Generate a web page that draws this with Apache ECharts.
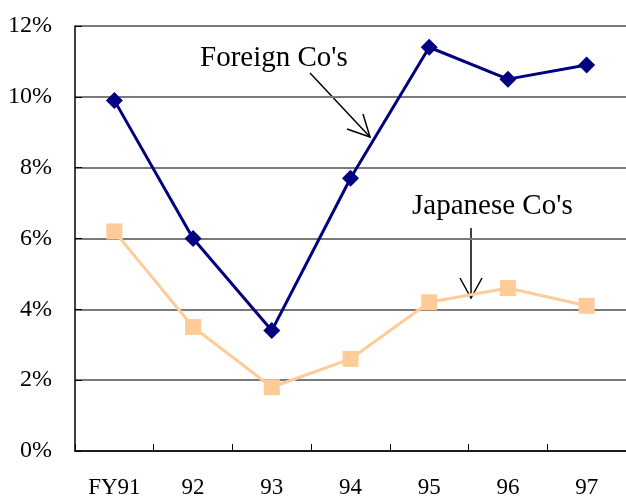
<!DOCTYPE html>
<html>
<head>
<meta charset="utf-8">
<script src="https://cdn.jsdelivr.net/npm/echarts@6/dist/echarts.min.js"></script>
<style>
  html, body { margin: 0; padding: 0; background: #fff; }
  #chart { width: 626px; height: 499px; }
</style>
</head>
<body>
<div id="chart"></div>
<script>
// Fiscal years on the category axis
const years = ['FY91', '92', '93', '94', '95', '96', '97'];
// Ratio values, in percent
const foreignCos = [9.9, 6.0, 3.4, 7.7, 11.4, 10.5, 10.9];
const japaneseCos = [6.2, 3.5, 1.8, 2.6, 4.2, 4.6, 4.1];
// Y-axis range and step (percent)
const yMin = 0, yMax = 12, yStep = 2;

const serif = '"Liberation Serif", "Times New Roman", serif';

const chart = echarts.init(document.getElementById('chart'), null, { renderer: 'canvas' });

chart.setOption({
  animation: false,
  backgroundColor: '#ffffff',
  grid: { left: 75, right: 0, top: 26, bottom: 48, containLabel: false },
  xAxis: {
    type: 'category',
    data: years,
    boundaryGap: true,
    axisLine: { show: true, lineStyle: { color: '#000', width: 1.5 } },
    axisTick: { show: true, inside: true, length: 7, alignWithLabel: false, lineStyle: { color: '#000', width: 1 } },
    axisLabel: { fontFamily: serif, fontSize: 23, color: '#000', margin: 25 },
    splitLine: { show: false }
  },
  yAxis: {
    type: 'value',
    min: yMin, max: yMax, interval: yStep,
    axisLine: { show: true, lineStyle: { color: '#000', width: 1.5 } },
    axisTick: { show: true, inside: true, length: 7, lineStyle: { color: '#000', width: 1 } },
    axisLabel: { fontFamily: serif, fontSize: 24, color: '#000', margin: 23, formatter: v => v + '%' },
    splitLine: { show: true, lineStyle: { color: '#7a7a7a', width: 2 } }
  },
  series: [
    {
      name: "Foreign Co's",
      type: 'line',
      data: foreignCos,
      symbol: 'diamond',
      symbolSize: 17,
      itemStyle: { color: '#000080' },
      lineStyle: { color: '#000080', width: 3 },
      z: 3
    },
    {
      name: "Japanese Co's",
      type: 'line',
      data: japaneseCos,
      symbol: 'rect',
      symbolSize: 16,
      itemStyle: { color: '#FFCC99' },
      lineStyle: { color: '#FFCC99', width: 3 },
      z: 2
    }
  ],
  graphic: [
    {
      type: 'text', x: 200, y: 58,
      style: { text: "Foreign Co's", font: '29px ' + serif, fill: '#000', verticalAlign: 'middle', align: 'left' }
    },
    {
      type: 'polyline',
      shape: { points: [[310, 73], [370, 137]] },
      style: { stroke: '#000', lineWidth: 1.5 }
    },
    {
      type: 'polyline',
      shape: { points: [[347, 129], [370, 137], [363, 114]] },
      style: { stroke: '#000', lineWidth: 1.5, fill: null }
    },
    {
      type: 'text', x: 412, y: 206,
      style: { text: "Japanese Co's", font: '29px ' + serif, fill: '#000', verticalAlign: 'middle', align: 'left' }
    },
    {
      type: 'polyline',
      shape: { points: [[471, 228], [471, 298]] },
      style: { stroke: '#000', lineWidth: 1.5 }
    },
    {
      type: 'polyline',
      shape: { points: [[460, 278], [471, 298], [482, 278]] },
      style: { stroke: '#000', lineWidth: 1.5, fill: null }
    }
  ]
});
</script>
</body>
</html>
